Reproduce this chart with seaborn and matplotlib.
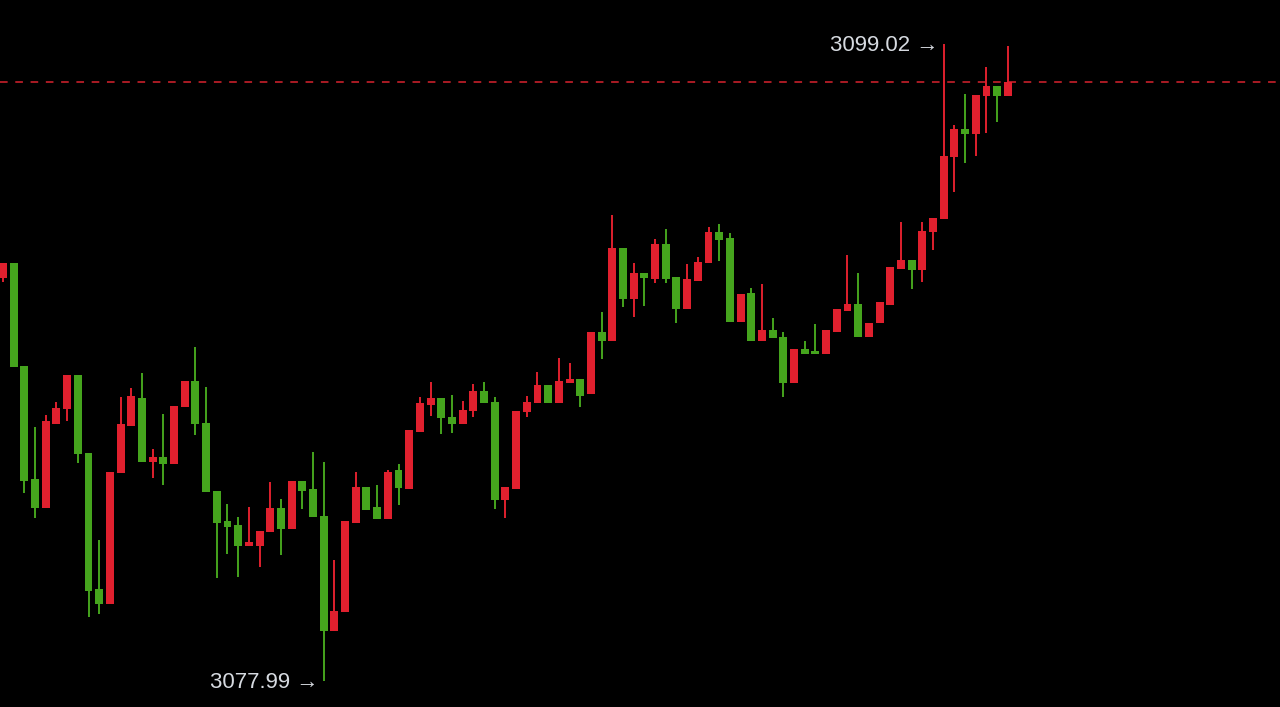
import numpy as np
import pandas as pd
import matplotlib
matplotlib.use("Agg")
import matplotlib.pyplot as plt
import seaborn as sns

# OHLC values (one candle per bar)
opens = [3091.30, 3091.79, 3088.39, 3084.66, 3083.70, 3086.48, 3086.97, 3088.09, 3085.52, 3081.03,
         3080.53, 3084.86, 3086.41, 3087.33, 3085.22, 3085.39, 3085.15, 3087.04, 3087.89, 3086.51,
         3084.26, 3083.27, 3083.14, 3082.45, 3082.45, 3082.91, 3083.70, 3083.01, 3084.59, 3084.33,
         3083.44, 3079.64, 3080.27, 3083.21, 3084.40, 3083.73, 3083.34, 3084.96, 3084.33, 3086.21,
         3087.10, 3087.33, 3086.71, 3086.48, 3086.90, 3087.56, 3087.20, 3083.97, 3084.33, 3086.87,
         3087.17, 3087.76, 3087.17, 3087.83, 3087.96, 3087.47, 3089.51, 3089.22, 3092.29, 3090.60,
         3091.46, 3091.26, 3092.42, 3091.33, 3090.27, 3091.20, 3091.79, 3092.81, 3092.62, 3089.84,
         3090.80, 3089.22, 3089.58, 3089.35, 3087.83, 3088.95, 3088.89, 3088.79, 3089.51, 3090.21,
         3090.44, 3089.35, 3089.81, 3090.40, 3091.59, 3091.89, 3091.56, 3092.81, 3093.24, 3095.29,
         3096.21, 3096.05, 3097.30, 3097.63, 3097.30]
highs = [3091.79, 3091.79, 3088.39, 3086.38, 3086.77, 3087.20, 3088.09, 3088.09, 3085.52, 3082.65,
         3084.89, 3087.37, 3087.66, 3088.16, 3085.65, 3086.81, 3087.07, 3087.89, 3089.02, 3087.70,
         3084.26, 3083.83, 3083.40, 3083.73, 3082.94, 3084.56, 3084.00, 3084.59, 3084.59, 3085.55,
         3085.22, 3081.98, 3083.27, 3084.89, 3084.40, 3084.46, 3084.96, 3085.15, 3086.28, 3087.37,
         3087.86, 3087.33, 3087.43, 3087.23, 3087.80, 3087.86, 3087.37, 3084.40, 3086.90, 3087.40,
         3088.19, 3087.76, 3088.65, 3088.49, 3087.96, 3089.51, 3090.17, 3093.38, 3092.29, 3091.79,
         3091.46, 3092.58, 3092.91, 3091.33, 3091.76, 3091.99, 3092.98, 3093.08, 3092.78, 3090.77,
         3090.97, 3091.10, 3089.97, 3089.51, 3088.95, 3089.22, 3089.78, 3089.58, 3090.27, 3092.05,
         3091.46, 3089.81, 3090.50, 3091.66, 3093.14, 3091.89, 3093.14, 3093.28, 3099.02, 3096.35,
         3097.37, 3097.34, 3098.26, 3097.63, 3098.95]
lows = [3091.16, 3088.36, 3084.20, 3083.37, 3083.70, 3086.48, 3086.57, 3085.19, 3080.10, 3080.20,
        3080.53, 3084.86, 3086.41, 3085.22, 3084.69, 3084.46, 3085.15, 3087.04, 3086.11, 3084.23,
        3081.39, 3082.18, 3081.42, 3082.45, 3081.75, 3082.91, 3082.15, 3083.01, 3083.67, 3083.40,
        3077.99, 3079.64, 3080.27, 3083.21, 3083.64, 3083.34, 3083.34, 3083.80, 3084.33, 3086.21,
        3086.74, 3086.14, 3086.18, 3086.48, 3086.71, 3087.17, 3083.67, 3083.37, 3084.33, 3086.71,
        3087.17, 3087.17, 3087.17, 3087.83, 3087.04, 3087.47, 3088.62, 3089.22, 3090.34, 3090.01,
        3090.37, 3091.13, 3091.13, 3089.81, 3090.27, 3091.20, 3091.79, 3091.86, 3089.84, 3089.84,
        3089.22, 3089.22, 3089.31, 3087.37, 3087.83, 3088.79, 3088.79, 3088.79, 3089.51, 3090.21,
        3089.35, 3089.35, 3089.81, 3090.40, 3091.59, 3090.93, 3091.16, 3092.22, 3093.24, 3094.13,
        3095.09, 3095.32, 3096.08, 3096.45, 3097.30]
closes = [3091.79, 3088.36, 3084.59, 3083.70, 3086.57, 3087.00, 3088.09, 3085.48, 3080.96, 3080.53,
          3084.89, 3086.48, 3087.40, 3085.22, 3085.39, 3085.15, 3087.07, 3087.89, 3086.48, 3084.23,
          3083.21, 3083.07, 3082.45, 3082.58, 3082.94, 3083.70, 3083.01, 3084.59, 3084.26, 3083.40,
          3079.64, 3080.30, 3083.27, 3084.40, 3083.64, 3083.34, 3084.89, 3084.36, 3086.28, 3087.17,
          3087.33, 3086.67, 3086.48, 3086.94, 3087.56, 3087.17, 3083.97, 3084.40, 3086.90, 3087.20,
          3087.76, 3087.17, 3087.89, 3087.96, 3087.40, 3089.51, 3089.22, 3092.29, 3090.60, 3091.46,
          3091.30, 3092.42, 3091.26, 3090.27, 3091.26, 3091.82, 3092.81, 3092.55, 3089.84, 3090.77,
          3089.22, 3089.58, 3089.31, 3087.83, 3088.95, 3088.79, 3088.79, 3089.58, 3090.27, 3090.44,
          3089.35, 3089.81, 3090.50, 3091.66, 3091.89, 3091.56, 3092.85, 3093.28, 3095.32, 3096.21,
          3096.05, 3097.34, 3097.63, 3097.30, 3097.77]

df = pd.DataFrame({"open": opens, "high": highs, "low": lows, "close": closes})
df["x"] = np.arange(len(df))
df["up"] = df["close"] >= df["open"]

RED = "#e0202e"
GREEN = "#45a41d"

sns.set_theme(style="dark", rc={"axes.facecolor": "black", "figure.facecolor": "black"})
plt.rcParams["font.family"] = ["Liberation Sans", "DejaVu Sans"]

fig = plt.figure(figsize=(12.8, 7.07), dpi=100)
ax = fig.add_axes([0, 0, 1, 1])
ax.set_facecolor("black")

colors = np.where(df["up"], RED, GREEN)

# wicks
ax.vlines(df["x"], df["low"], df["high"], colors=colors, linewidth=1.4, zorder=2)

# bodies
body_bottom = df[["open", "close"]].min(axis=1)
body_height = (df["close"] - df["open"]).abs().clip(lower=0.06)
ax.bar(df["x"], body_height, bottom=body_bottom, width=0.74, color=colors,
       linewidth=0, zorder=3)

# last price line
last = df["close"].iloc[-1]
ax.axhline(last, color="#d8222e", linewidth=1.1, linestyle=(0, (5, 5)), zorder=1)

# high / low labels
hi_i = df["high"].idxmax()
lo_i = df["low"].idxmin()
ax.text(hi_i - 0.45, df["high"].max() - 0.05, f"{df['high'].max():.2f} \u2192", color="#d6dae0",
        fontsize=16, ha="right", va="center")
ax.text(lo_i - 0.45, df["low"].min() - 0.05, f"{df['low'].min():.2f} \u2192", color="#d6dae0",
        fontsize=16, ha="right", va="center")

ax.set_xlim(-0.28, 119.46)
ax.set_ylim(3077.13, 3100.47)
ax.set_axis_off()
sns.despine(ax=ax, left=True, bottom=True)

fig.savefig("out.png", dpi=100, facecolor="black")
